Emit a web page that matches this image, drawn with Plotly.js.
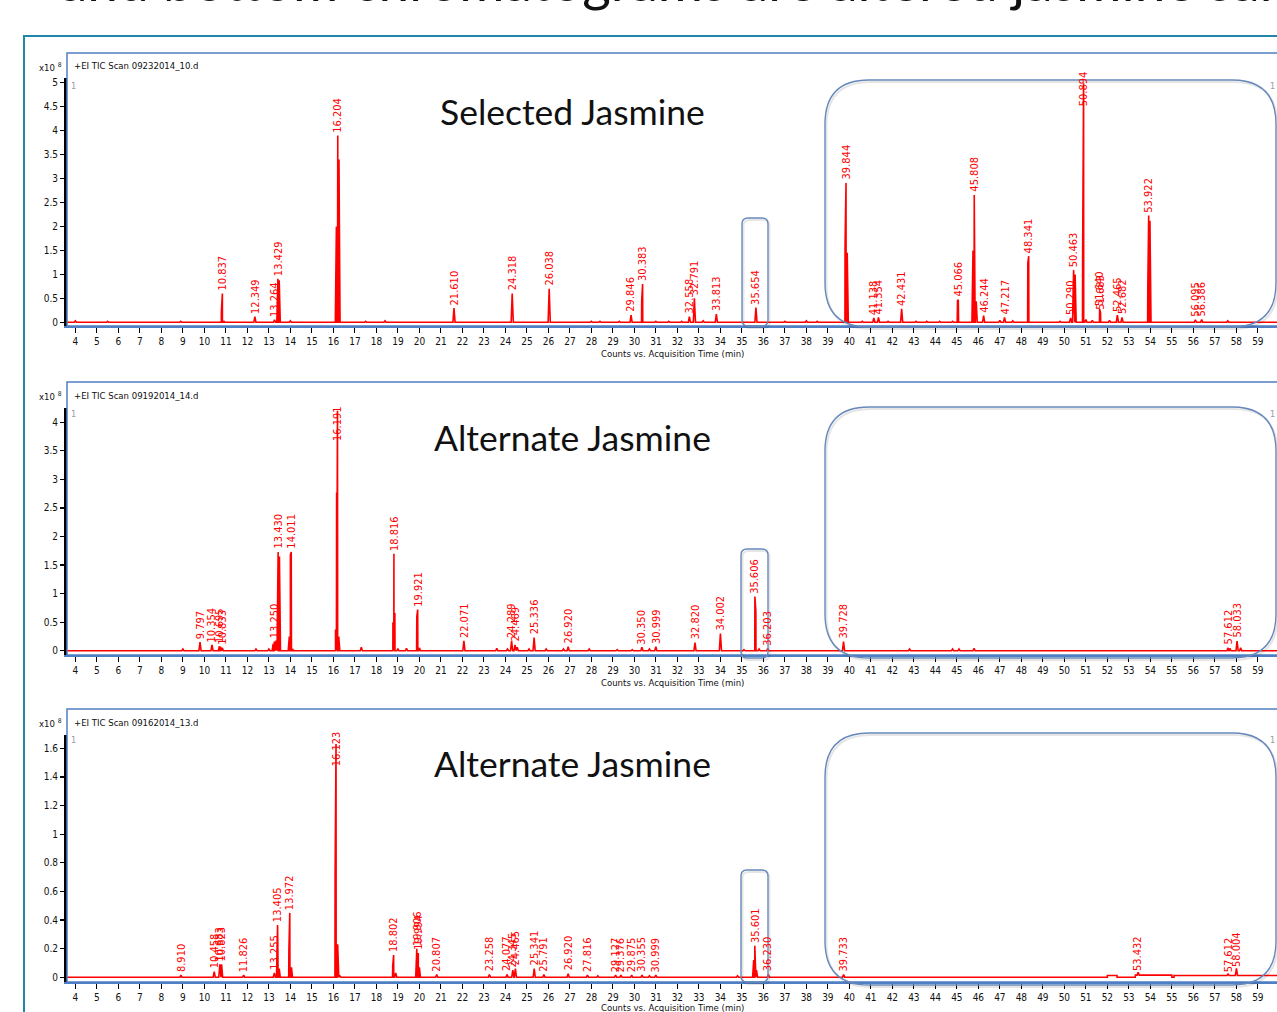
<!DOCTYPE html>
<html><head><meta charset="utf-8">
<script src="https://cdn.plot.ly/plotly-3.0.1.min.js"></script>
<style>html,body{margin:0;padding:0;overflow:hidden;background:#fff;width:1277px;height:1012px}#chart{width:1277px;height:1012px}</style>
</head><body><div id="chart"></div><script>
// ---------- DATA ----------
// Panel 1: Selected Jasmine
const p1RT  = [4.0,5.5,8.9,10.79,10.837,10.9,12.349,13.264,13.42,13.48,14.0,16.14,16.204,16.26,17.5,18.4,21.610,24.318,26.038,28.0,28.4,29.3,29.846,30.34,30.383,31.0,31.6,32.2,32.558,32.791,33.2,33.813,35.654,37.0,38.0,38.5,39.80,39.844,39.90,40.6,41.138,41.354,41.8,42.431,43.1,43.6,44.2,44.8,45.03,45.066,45.75,45.808,45.90,46.244,47.0,47.217,47.6,48.30,48.341,49.8,50.290,50.43,50.50,50.85,50.894,51.0,51.3,51.640,51.683,52.1,52.465,52.682,53.88,53.922,53.98,56.095,56.386,57.6];
const p1H   = [0.03,0.02,0.02,0.22,0.6,0.03,0.12,0.05,0.91,0.88,0.03,2.0,3.9,3.4,0.02,0.03,0.3,0.6,0.7,0.02,0.02,0.02,0.15,0.45,0.8,0.02,0.02,0.02,0.12,0.5,0.03,0.17,0.31,0.02,0.03,0.02,1.65,2.91,1.45,0.02,0.09,0.1,0.02,0.28,0.02,0.02,0.02,0.02,0.45,0.47,1.5,2.66,0.44,0.14,0.04,0.1,0.03,1.24,1.38,0.02,0.09,1.09,1.0,1.45,4.99,0.06,0.04,0.28,0.2,0.04,0.15,0.1,0.7,2.23,2.12,0.05,0.06,0.03];
const p1Lab = ['','','','','10.837','','12.349','13.264','13.429','','','','16.204','','','','21.610','24.318','26.038','','','','29.846','','30.383','','','','32.558','32.791','','33.813','35.654','','','','','39.844','','','41.138','41.354','','42.431','','','','','','45.066','','45.808','','46.244','','47.217','','','48.341','','50.290','50.463','','','50.894','','','51.640','51.683','','52.465','52.682','','53.922','','56.095','56.386',''];
// Panel 2: Alternate Jasmine (09192014_14)
const p2RT  = [9.0,9.797,10.354,10.70,10.75,10.833,12.4,13.0,13.20,13.250,13.33,13.43,13.49,13.95,14.00,14.04,14.1,16.10,16.15,16.191,16.25,17.3,18.77,18.816,18.86,19.0,19.4,19.88,19.921,20.0,22.071,23.6,24.1,24.289,24.45,24.55,25.1,25.336,25.9,26.7,26.920,27.9,29.2,29.9,30.350,30.7,30.999,32.820,34.002,35.1,35.606,35.65,35.8,36.203,39.728,42.8,44.8,45.1,45.8,57.612,57.7,58.033,58.2];
const p2H   = [0.03,0.15,0.1,0.08,0.07,0.05,0.03,0.03,0.12,0.16,0.18,1.73,1.65,0.25,1.68,1.73,0.03,0.37,2.77,4.2,0.25,0.06,0.5,1.7,0.66,0.03,0.04,0.6,0.72,0.05,0.175,0.04,0.03,0.17,0.1,0.06,0.03,0.23,0.03,0.03,0.07,0.03,0.02,0.02,0.06,0.03,0.07,0.14,0.3,0.02,0.95,0.7,0.03,0.04,0.16,0.03,0.03,0.03,0.04,0.05,0.04,0.17,0.05];
const p2Lab = ['','9.797','10.354','10.695','','10.833','','','','13.250','','13.430','','','','14.011','','','','16.191','','','','18.816','','','','','19.921','','22.071','','','24.289','24.469','','','25.336','','','26.920','','','','30.350','','30.999','32.820','34.002','','35.606','','','36.203','39.728','','','','','57.612','','58.033',''];
// Panel 3: Alternate Jasmine (09162014_13)
const p3RT  = [8.910,10.458,10.72,10.80,11.826,13.255,13.405,13.48,13.93,13.972,14.05,16.08,16.123,16.2,16.3,18.76,18.802,18.9,19.88,19.95,20.0,20.807,23.258,24.077,24.345,24.465,25.341,25.791,26.920,27.816,28.3,29.127,29.376,29.875,30.355,30.7,30.999,34.8,35.55,35.601,35.68,36.230,39.733,53.432,57.612,58.004];
const p3H   = [0.015,0.04,0.09,0.09,0.015,0.03,0.365,0.06,0.18,0.45,0.07,0.71,1.63,0.23,0.01,0.08,0.156,0.03,0.2,0.17,0.07,0.02,0.02,0.02,0.05,0.06,0.06,0.02,0.025,0.015,0.01,0.015,0.015,0.015,0.015,0.01,0.015,0.01,0.12,0.22,0.05,0.02,0.02,0.02,0.01,0.05];
const p3Lab = ['8.910','10.458','10.683','10.823','11.826','13.255','13.405','','','13.972','','','16.123','','','','18.802','','19.906','19.994','','20.807','23.258','24.077','24.345','24.465','25.341','25.791','26.920','27.816','','29.127','29.376','29.875','30.355','','30.999','','','35.601','','36.230','39.733','53.432','57.612','58.004'];
// raised baseline stretches in panel 3
const p3PlatStart = [52.0, 53.3, 55.1];
const p3PlatEnd   = [52.45, 55.0, 61.9];
const p3PlatLevel = [0.012, 0.015, 0.012];

const y1Ticks = [0,0.5,1,1.5,2,2.5,3,3.5,4,4.5,5];
const y1Text  = ['0','0.5','1','1.5','2','2.5','3','3.5','4','4.5','5'];
const y2Ticks = [0,0.5,1,1.5,2,2.5,3,3.5,4];
const y2Text  = ['0','0.5','1','1.5','2','2.5','3','3.5','4'];
const y3Ticks = [0,0.2,0.4,0.6,0.8,1,1.2,1.4,1.6];
const y3Text  = ['0','0.2','0.4','0.6','0.8','1','1.2','1.4','1.6'];

const panelTitles = ['Selected Jasmine','Alternate Jasmine','Alternate Jasmine'];
const fileNames = ['+EI TIC Scan 09232014_10.d','+EI TIC Scan 09192014_14.d','+EI TIC Scan 09162014_13.d'];
const xTitle = 'Counts vs. Acquisition Time (min)';
const topText = 'and bottom chromatograms are altered jasmine samples';

// ---------- LAYOUT GEOMETRY ----------
const W = 1277, H = 1012;
const X = v => v / W, Y = v => 1 - v / H;
const NARROW = "'Liberation Sans Narrow','Arial Narrow','DejaVu Sans Condensed',Arial,sans-serif";
const RED = '#ff0000', BLUE = '#4f7fc4', CALL = '#6688bb';
const XR = [3.61, 59.89];
const panels = [
  {frameTop:53, axTop:78, axBot:326, yr:[-0.077,5.1], tv:y1Ticks, tt:y1Text, cap:4.45, rt:p1RT, h:p1H, lab:p1Lab, head:66, one:86, titleY:111, xtY:353,
   small:[742,218,768,326], big:[825,80,1276,327]},
  {frameTop:382, axTop:408, axBot:655, yr:[-0.075,4.25], tv:y2Ticks, tt:y2Text, cap:3.62, rt:p2RT, h:p2H, lab:p2Lab, head:395, one:414, titleY:438, xtY:682,
   small:[741,549,768,658], big:[825,407,1276,658]},
  {frameTop:709, axTop:735, axBot:982, yr:[-0.033,1.693], tv:y3Ticks, tt:y3Text, cap:1.45, rt:p3RT, h:p3H, lab:p3Lab, head:722, one:740, titleY:763, xtY:1007,
   small:[741,870,768,982], big:[825,733,1276,985],
   plat:{s:p3PlatStart, e:p3PlatEnd, l:p3PlatLevel}}
];

function rr(x0,y0,x1,y1,r){
  const a=v=>X(v).toFixed(5), b=v=>Y(v).toFixed(5);
  return `M${a(x0+r)},${b(y0)} L${a(x1-r)},${b(y0)} Q${a(x1)},${b(y0)} ${a(x1)},${b(y0+r)} L${a(x1)},${b(y1-r)} Q${a(x1)},${b(y1)} ${a(x1-r)},${b(y1)} L${a(x0+r)},${b(y1)} Q${a(x0)},${b(y1)} ${a(x0)},${b(y1-r)} L${a(x0)},${b(y0+r)} Q${a(x0)},${b(y0)} ${a(x0+r)},${b(y0)} Z`;
}

const traces = [], shapes = [], annotations = [];
const layout = {width:W, height:H, margin:{l:0,r:0,t:0,b:0,pad:0}, showlegend:false,
  paper_bgcolor:'#fff', plot_bgcolor:'rgba(0,0,0,0)', font:{family:NARROW, color:'#111'}};

// outer teal border
shapes.push({type:'rect', xref:'paper', yref:'paper', x0:X(24), x1:1.05, y0:-0.02, y1:Y(36), line:{color:'#1f86a8', width:2}});

panels.forEach((p,i)=>{
  const n = i===0 ? '' : String(i+1);
  const xa = 'x'+n, ya = 'y'+n;
  layout['xaxis'+n] = {domain:[X(67),1], range:XR, anchor:ya, tickmode:'linear', tick0:4, dtick:1,
    ticks:'outside', ticklen:5, tickwidth:1.2, tickcolor:'#000', showline:true, linecolor:BLUE, linewidth:1.5,
    showgrid:false, zeroline:false, tickfont:{family:NARROW, size:10, color:'#111'}, fixedrange:true};
  layout['yaxis'+n] = {domain:[Y(p.axBot), Y(p.axTop)], range:p.yr, anchor:xa, tickmode:'array', tickvals:p.tv, ticktext:p.tt,
    ticks:'outside', ticklen:4, tickwidth:1.2, tickcolor:'#000', showline:true, linecolor:'#000', linewidth:3,
    showgrid:false, zeroline:false, tickfont:{family:NARROW, size:10, color:'#111'}, fixedrange:true};

  // build chromatogram line from the peak list
  const base = x => { if(!p.plat) return 0; for(let k=0;k<p.plat.s.length;k++){ if(x>=p.plat.s[k] && x<=p.plat.e[k]) return p.plat.l[k]; } return 0; };
  const pts = [[XR[0], base(XR[0])],[XR[1], base(XR[1])]];
  if(p.plat){ p.plat.s.forEach((s,k)=>{ pts.push([s-0.001,0],[s,p.plat.l[k]]); pts.push([p.plat.e[k],p.plat.l[k]],[p.plat.e[k]+0.001,0]); }); }
  const w = 0.05;
  p.rt.forEach((t,k)=>{ pts.push([t-w, base(t-w)],[t, base(t)+p.h[k]],[t+w, base(t+w)]); });
  pts.sort((a,b)=>a[0]-b[0]);
  traces.push({x:pts.map(q=>q[0]), y:pts.map(q=>q[1]), xaxis:xa, yaxis:ya, type:'scatter', mode:'lines',
    line:{color:RED, width:1.6}, hoverinfo:'skip'});

  // peak labels
  p.rt.forEach((t,k)=>{ if(!p.lab[k]) return;
    annotations.push({xref:xa, yref:ya, x:t, y:Math.min(p.h[k], p.cap), text:p.lab[k], showarrow:false, textangle:-90,
      xanchor:'center', yanchor:'bottom', yshift:1, font:{family:NARROW, size:11, color:RED}});
  });

  // panel frame
  shapes.push({type:'rect', xref:'paper', yref:'paper', x0:X(67), x1:1.05, y0:Y(p.axBot), y1:Y(p.frameTop), line:{color:BLUE, width:1.5}});
  // callout boxes with faint shadow
  [p.small, p.big].forEach((r,j)=>{
    const rad = j===0 ? 6 : 44;
    shapes.push({type:'path', xref:'paper', yref:'paper', path:rr(r[0]+1.5,r[1]+2,r[2]+1.5,r[3]+2,rad), line:{color:'rgba(0,0,0,0.10)', width:2}});
    shapes.push({type:'path', xref:'paper', yref:'paper', path:rr(r[0],r[1],r[2],r[3],rad), line:{color:CALL, width:1.4}});
  });

  // texts
  annotations.push({xref:'paper', yref:'paper', x:X(72), y:Y(p.head), xanchor:'left', yanchor:'middle', showarrow:false,
    text:fileNames[i], font:{family:NARROW, size:9.5, color:'#111'}});
  annotations.push({xref:'paper', yref:'paper', x:X(37), y:Y(p.head+1), xanchor:'left', yanchor:'middle', showarrow:false,
    text:'x10 <sup>8</sup>', font:{family:NARROW, size:9.5, color:'#111'}});
  annotations.push({xref:'paper', yref:'paper', x:X(73), y:Y(p.one), xanchor:'center', yanchor:'middle', showarrow:false,
    text:'1', font:{family:NARROW, size:9, color:'#999'}});
  annotations.push({xref:'paper', yref:'paper', x:X(1272), y:Y(p.one), xanchor:'center', yanchor:'middle', showarrow:false,
    text:'1', font:{family:NARROW, size:9, color:'#999'}});
  annotations.push({xref:'paper', yref:'paper', x:X(673), y:Y(p.xtY), xanchor:'center', yanchor:'middle', showarrow:false,
    text:xTitle, font:{family:NARROW, size:9.5, color:'#111'}});
  annotations.push({xref:'paper', yref:'paper', x:X(572), y:Y(p.titleY), xanchor:'center', yanchor:'middle', showarrow:false,
    text:panelTitles[i], font:{family:'Lato, "Open Sans", sans-serif', size:35.5, color:'#111'}});
});

annotations.push({xref:'paper', yref:'paper', x:X(58), y:Y(-20), xanchor:'left', yanchor:'middle', showarrow:false,
  text:topText, font:{family:'Lato, "Open Sans", sans-serif', size:55, color:'#111'}});

layout.shapes = shapes;
layout.annotations = annotations;
Plotly.newPlot('chart', traces, layout, {staticPlot:true, displayModeBar:false});
</script></body></html>
